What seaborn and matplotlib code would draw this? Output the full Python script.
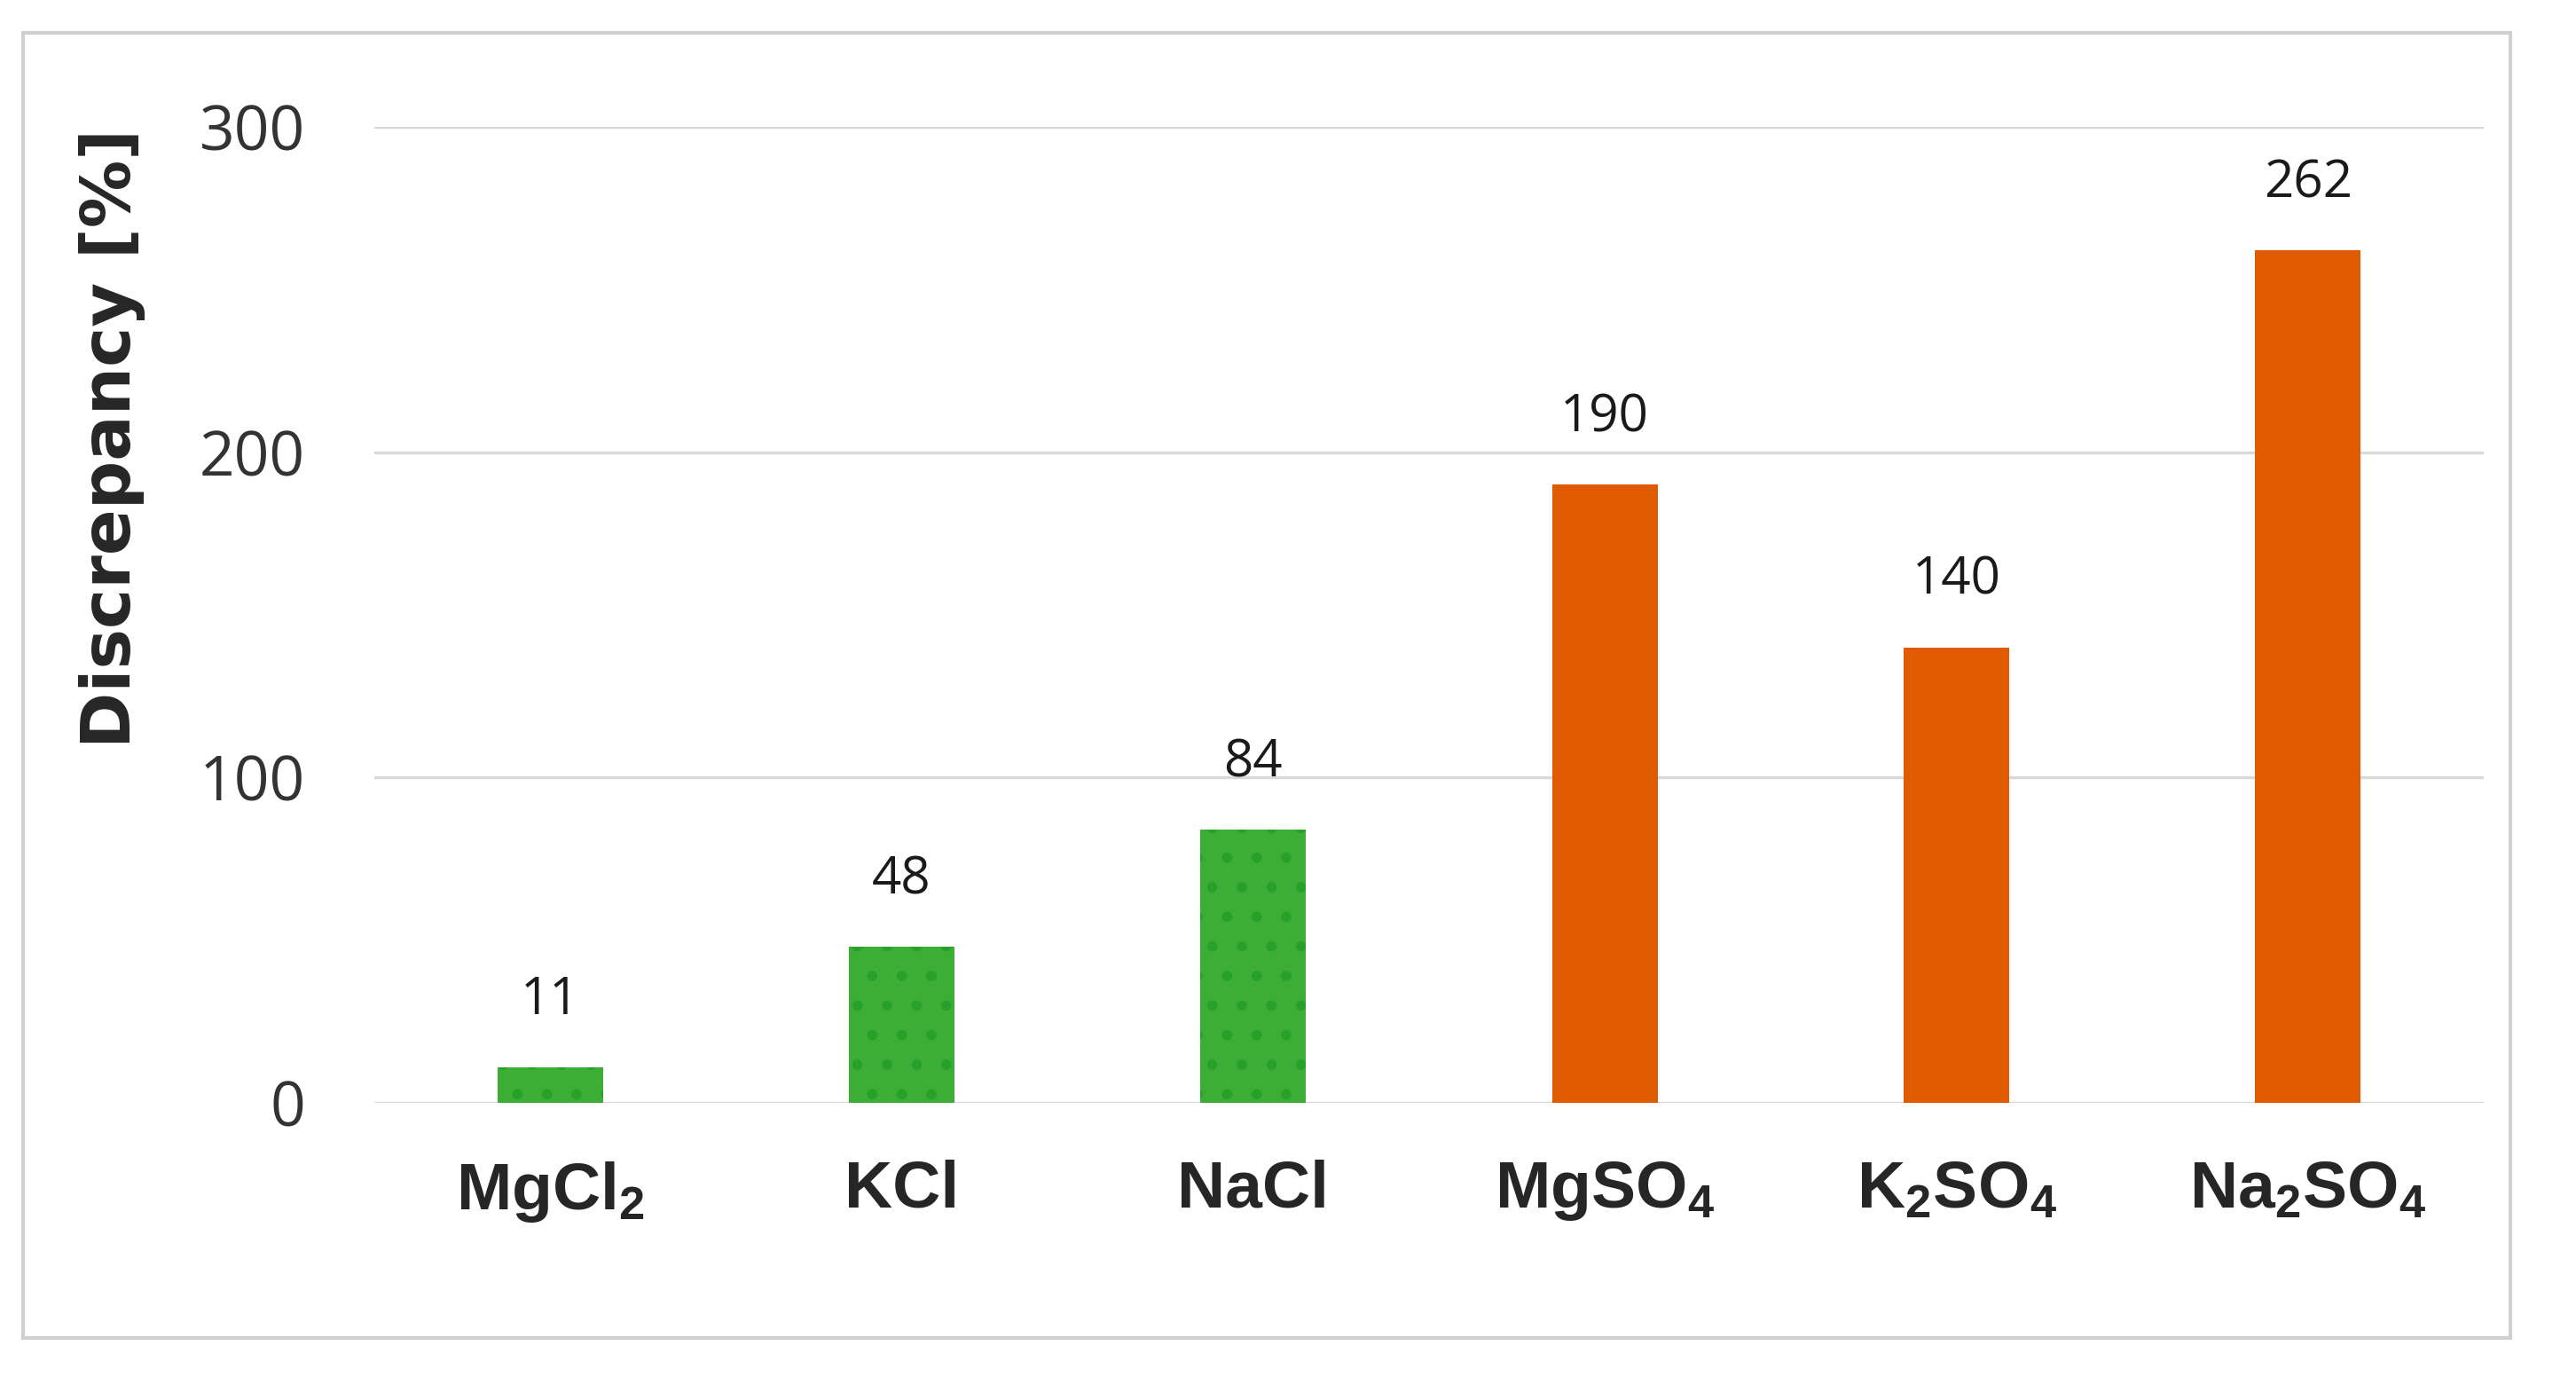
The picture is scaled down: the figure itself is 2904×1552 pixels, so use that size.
import matplotlib
matplotlib.use("Agg")
import matplotlib.pyplot as plt
import seaborn as sns
import pandas as pd
from matplotlib.patches import Rectangle

salts = ["MgCl$_2$", "KCl", "NaCl", "MgSO$_4$", "K$_2$SO$_4$", "Na$_2$SO$_4$"]
discrepancy = [11, 48, 84, 190, 140, 262]
groups = ["chloride", "chloride", "chloride", "sulfate", "sulfate", "sulfate"]
yticks = [0, 100, 200, 300]

green = "#3cae36"
orange = "#e05a00"
colors = {"chloride": green, "sulfate": orange}

sns.set_style("white")
plt.rcParams["mathtext.default"] = "regular"
plt.rcParams["hatch.linewidth"] = 1.8

df = pd.DataFrame({"salt": salts, "value": discrepancy, "group": groups})

fig = plt.figure(figsize=(14.52, 7.76), dpi=200)
ax = fig.add_axes([0.1453, 0.1991, 0.8189, 0.7088])

sns.barplot(data=df, x="salt", y="value", hue="salt",
            palette=[colors[g] for g in groups], width=0.3,
            legend=False, ax=ax, saturation=1)

# dotted fill on the chloride bars
for patch, g in zip(ax.patches, groups):
    patch.set_linewidth(0)
    if g == "chloride":
        patch.set_hatch(".")
        patch.set_edgecolor("#28a02c")

ax.set_ylim(0, 300)
ax.set_xlim(-0.5, 5.5)
ax.set_yticks(yticks)
ax.yaxis.grid(True, color="#d9d9d9", linewidth=1.2)
ax.set_axisbelow(True)
for s in ax.spines.values():
    s.set_visible(False)
ax.tick_params(axis="y", length=0, pad=28, labelsize=25, labelcolor="#333333")
ax.tick_params(axis="x", length=0, pad=23)
for lab in ax.get_yticklabels():
    lab.set_fontfamily("Open Sans")
ax.set_xticks(range(len(salts)))
ax.set_xticklabels(salts, fontsize=27, fontweight="bold",
                   fontfamily="Liberation Sans")
ax.set_xlabel("")
ax.set_ylabel("")

for i, v in enumerate(discrepancy):
    ax.annotate(str(v), (i, v), xytext=(0, 27), textcoords="offset points",
                ha="center", va="center", fontsize=21,
                fontfamily="Open Sans", color="#1a1a1a")

fig.text(0.0434, 0.682, "Discrepancy [%]", rotation=90, ha="center",
         va="center", fontsize=27.5, fontweight="bold", fontfamily="DejaVu Sans")

fig.patches.append(Rectangle((26 / 2904, 1 - 1508 / 1552), 2804 / 2904,
                             1471 / 1552, transform=fig.transFigure,
                             fill=False, edgecolor="#d0d0d0", linewidth=1.5))

fig.savefig("out.png", dpi=200, facecolor="white")
